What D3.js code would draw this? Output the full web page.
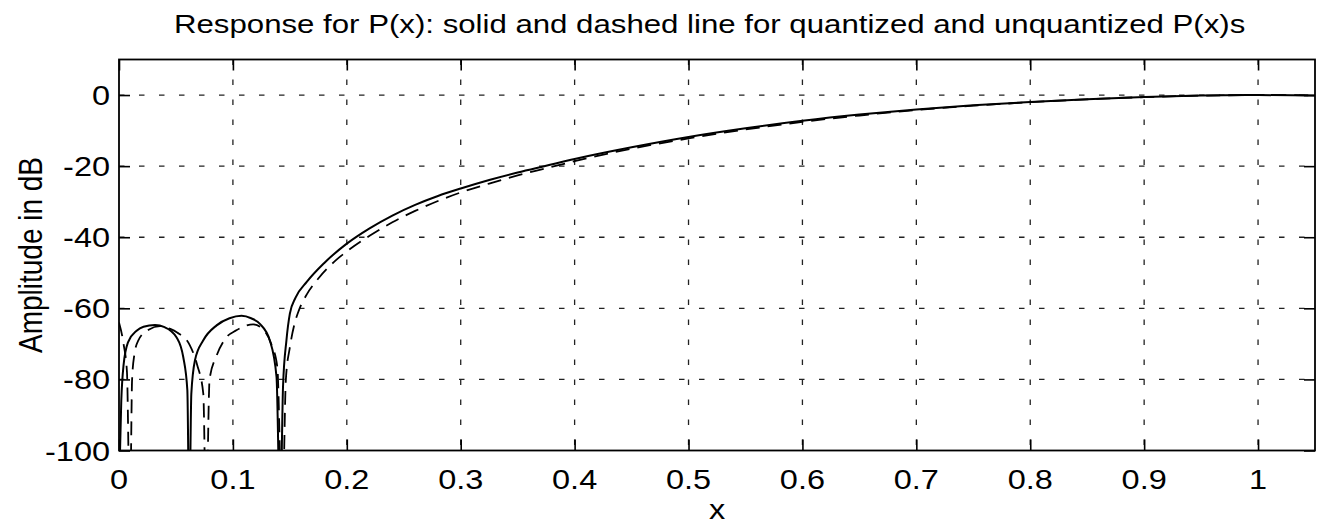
<!DOCTYPE html>
<html>
<head>
<meta charset="utf-8">
<script src="https://cdn.jsdelivr.net/npm/d3@7"></script>
<style>
  html, body { margin: 0; padding: 0; background: #fff; }
  svg { display: block; }
  text { font-family: "Liberation Sans", Arial, Helvetica, sans-serif; fill: #000; }
</style>
</head>
<body>
<svg id="chart" width="1321" height="530"></svg>
<script>
// Quantized response P(x) (solid), amplitude in dB
const quantX = [0, 0.002, 0.004, 0.008, 0.0155, 0.0215, 0.0316, 0.040, 0.0506, 0.0564, 0.060, 0.0617,
  0.0635, 0.0667, 0.074, 0.0857, 0.097, 0.1076, 0.116, 0.1237, 0.1325, 0.1383, 0.1415,
  0.144, 0.147, 0.150, 0.155, 0.165, 0.18, 0.20, 0.22, 0.24, 0.26, 0.28, 0.30, 0.325, 0.35,
  0.375, 0.40, 0.45, 0.50, 0.55, 0.60, 0.65, 0.70, 0.75, 0.80, 0.85, 0.90, 0.95, 1.0, 1.05];
const quantDB = [-112, -86, -76, -69.5, -66.3, -65.2, -64.7, -65.3, -68.2, -73.7, -83, -120,
  -84, -74.6, -69, -64.8, -62.8, -62.1, -62.8, -64.4, -69.1, -79.3, -120,
  -82, -69, -61.5, -57, -52.5, -47.3, -41.8, -37.5, -33.9, -30.9, -28.4, -26.3, -23.9, -21.8,
  -19.9, -18.0, -14.7, -11.8, -9.35, -7.25, -5.5, -4.05, -2.9, -1.95, -1.15, -0.55, -0.15, 0, -0.1];

// Unquantized response P(x) (dashed), amplitude in dB
const unquantX = [0, 0.004, 0.007, 0.0096, 0.0115, 0.0135, 0.017, 0.026, 0.036, 0.045, 0.051, 0.062,
  0.0687, 0.074, 0.0765, 0.0795, 0.0857, 0.093, 0.103, 0.1178, 0.125, 0.1336, 0.139, 0.1433,
  0.1465, 0.150, 0.154, 0.158, 0.165, 0.175, 0.19, 0.20, 0.22, 0.24, 0.26, 0.28, 0.30, 0.325,
  0.35, 0.375, 0.40, 0.45, 0.50, 0.55, 0.60, 0.65, 0.70, 0.75, 0.80, 0.85, 0.90, 0.95, 1.0, 1.05];
const unquantDB = [-64, -70, -78, -120, -80, -73, -69, -66, -65, -65.8, -66.8, -70.3,
  -76, -84, -120, -80, -73.3, -68.7, -66.2, -64.5, -65.5, -70, -76.5, -120,
  -80, -71, -64.5, -60.5, -56, -51.6, -46.6, -44.0, -39.6, -35.8, -32.6, -29.8, -27.4, -24.9,
  -22.6, -20.6, -18.6, -15.1, -12.2, -9.7, -7.55, -5.75, -4.2, -3.0, -2.02, -1.2, -0.58, -0.17, 0, -0.1];

const xTicks = [0, 0.1, 0.2, 0.3, 0.4, 0.5, 0.6, 0.7, 0.8, 0.9, 1];
const xTickLabels = ["0", "0.1", "0.2", "0.3", "0.4", "0.5", "0.6", "0.7", "0.8", "0.9", "1"];
const yTicks = [-100, -80, -60, -40, -20, 0];
const yTickLabels = ["-100", "-80", "-60", "-40", "-20", "0"];

const titleText = "Response for P(x): solid and dashed line for quantized and unquantized P(x)s";
const xLabelText = "x";
const yLabelText = "Amplitude in dB";

const svg = d3.select("#chart");
const plot = { left: 119, right: 1315, top: 59.5, bottom: 450.5 };
const stretch = 1.16;   // glyphs are set slightly wide

const x = d3.scaleLinear().domain([0, 1.05]).range([plot.left, plot.right]);
const y = d3.scaleLinear().domain([-100, 10]).range([plot.bottom, plot.top]);

svg.append("rect").attr("width", 1321).attr("height", 530).attr("fill", "#fff");

// Dotted grid
const grid = svg.append("g").attr("stroke", "#222").attr("stroke-width", 1.3)
  .attr("stroke-dasharray", "5.5 14.5");
grid.selectAll("line.vx").data(xTicks.filter(d => d > 0)).join("line")
  .attr("x1", d => x(d)).attr("x2", d => x(d))
  .attr("y1", plot.top).attr("y2", plot.bottom);
grid.selectAll("line.hy").data(yTicks.filter(d => d > -100)).join("line")
  .attr("x1", plot.left).attr("x2", plot.right)
  .attr("y1", d => y(d)).attr("y2", d => y(d));

// Curves, clipped to the axes box
svg.append("clipPath").attr("id", "clip")
  .append("rect").attr("x", plot.left).attr("y", plot.top)
  .attr("width", plot.right - plot.left).attr("height", plot.bottom - plot.top);

const line = d3.line().x(d => x(d[0])).y(d => y(d[1])).curve(d3.curveMonotoneX);
const curves = svg.append("g").attr("clip-path", "url(#clip)").attr("fill", "none").attr("stroke", "#000");

curves.append("path")
  .datum(unquantX.map((v, i) => [v, unquantDB[i]]))
  .attr("d", line).attr("stroke-width", 1.8).attr("stroke-dasharray", "14 8");
curves.append("path")
  .datum(quantX.map((v, i) => [v, quantDB[i]]))
  .attr("d", line).attr("stroke-width", 2);

// Inward ticks on all four sides
const tickLen = 11;
const axisG = svg.append("g");
axisG.append("g").attr("transform", `translate(0,${plot.bottom})`)
  .call(d3.axisBottom(x).tickValues(xTicks).tickSizeInner(-tickLen).tickSizeOuter(0).tickFormat(""));
axisG.append("g").attr("transform", `translate(0,${plot.top})`)
  .call(d3.axisTop(x).tickValues(xTicks).tickSizeInner(-tickLen).tickSizeOuter(0).tickFormat(""));
axisG.append("g").attr("transform", `translate(${plot.left},0)`)
  .call(d3.axisLeft(y).tickValues(yTicks).tickSizeInner(-tickLen).tickSizeOuter(0).tickFormat(""));
axisG.append("g").attr("transform", `translate(${plot.right},0)`)
  .call(d3.axisRight(y).tickValues(yTicks).tickSizeInner(-tickLen).tickSizeOuter(0).tickFormat(""));
axisG.selectAll(".domain").remove();
axisG.selectAll(".tick line").attr("stroke", "#000").attr("stroke-width", 1.6);

svg.append("rect").attr("x", plot.left).attr("y", plot.top)
  .attr("width", plot.right - plot.left).attr("height", plot.bottom - plot.top)
  .attr("fill", "none").attr("stroke", "#000").attr("stroke-width", 1.8);

// Tick labels
svg.append("g").selectAll("text").data(xTicks).join("text")
  .attr("transform", d => `translate(${x(d)},489) scale(${stretch},1)`)
  .attr("text-anchor", "middle").attr("font-size", 28)
  .text((d, i) => xTickLabels[i]);
svg.append("g").selectAll("text").data(yTicks).join("text")
  .attr("transform", d => `translate(110,${y(d) + 10}) scale(${stretch},1)`)
  .attr("text-anchor", "end").attr("font-size", 28)
  .text((d, i) => yTickLabels[i]);

// Title and axis labels
svg.append("text").attr("transform", `translate(174,33) scale(1.2,1)`)
  .attr("text-anchor", "start").attr("font-size", 26).text(titleText);
svg.append("text").attr("transform", `translate(${(plot.left + plot.right) / 2},519) scale(${stretch},1)`)
  .attr("text-anchor", "middle").attr("font-size", 28).text(xLabelText);
svg.append("text").attr("transform", `translate(42,${(plot.top + plot.bottom) / 2}) scale(${stretch},1) rotate(-90)`)
  .attr("text-anchor", "middle").attr("font-size", 28).text(yLabelText);
</script>
</body>
</html>
